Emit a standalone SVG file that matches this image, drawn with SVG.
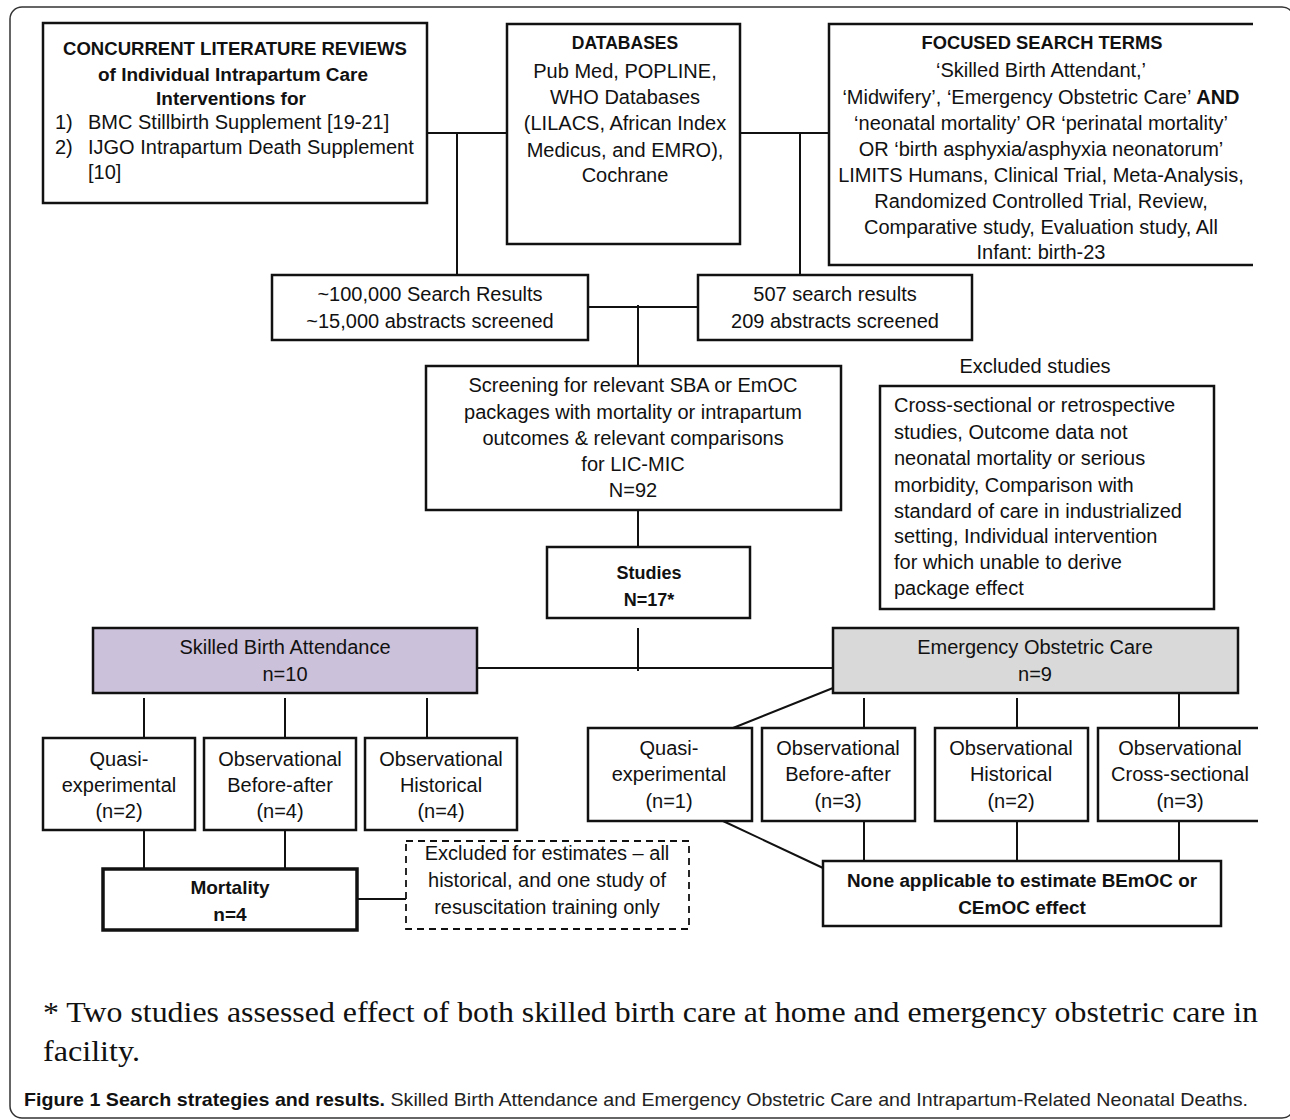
<svg xmlns="http://www.w3.org/2000/svg" width="1290" height="1120" viewBox="0 0 1290 1120">
<style>
.box{fill:#fff;stroke:#111;stroke-width:2.5}
.open{fill:none;stroke:#111;stroke-width:2.5}
.con{fill:none;stroke:#111;stroke-width:2}
.t{font-family:"Liberation Sans",Arial,sans-serif;font-size:20px;fill:#111;text-anchor:middle}
.l{text-anchor:start}
.b{font-weight:bold;font-size:18px}
.fn{font-family:"Liberation Serif","Times New Roman",serif;font-size:30px;fill:#111}
.cap{font-family:"Liberation Sans",Arial,sans-serif;font-size:18.5px;fill:#222}
</style>
<rect x="10" y="7" width="1284" height="1111" rx="12" fill="#fff" stroke="#333" stroke-width="1.5"/>

<g id="connectors">
<path class="con" d="M427,133H507M457,133V275M740,133H829M800,133V275"/>
<path class="con" d="M588,307H698M638,305V366"/>
<path class="con" d="M638,507V547"/>
<path class="con" d="M638,628V671M477,668H833"/>
<path class="con" d="M144,698V738M285,698V738M427,698V738"/>
<path class="con" d="M144,830V869M285,830V869"/>
<path class="con" d="M357,899H406"/>
<path class="con" d="M833,688L733,728M864,698V728M1017,698V728M1179,690V728"/>
<path class="con" d="M723,821L823,868M864,821V861M1017,821V861M1179,821V861"/>
</g>

<g id="n-reviews">
<rect class="box" x="43" y="23" width="384" height="180"/>
<text class="t b" x="235" y="55" textLength="344" lengthAdjust="spacingAndGlyphs">CONCURRENT LITERATURE  REVIEWS</text>
<text class="t b" x="233" y="81" textLength="270" lengthAdjust="spacingAndGlyphs">of Individual  Intrapartum  Care</text>
<text class="t b" x="231" y="105" style="font-size:19px">Interventions  for</text>
<text class="t l" x="55" y="129">1)</text><text class="t l" x="88" y="129">BMC Stillbirth  Supplement [19-21]</text>
<text class="t l" x="55" y="154">2)</text><text class="t l" x="88" y="154">IJGO Intrapartum Death Supplement</text>
<text class="t l" x="88" y="179">[10]</text>
</g>

<g id="n-databases">
<rect class="box" x="507" y="24" width="233" height="220"/>
<text class="t b" x="625" y="49" style="font-size:17.5px">DATABASES</text>
<text class="t" x="625" y="78">Pub Med,  POPLINE,</text>
<text class="t" x="625" y="104">WHO Databases</text>
<text class="t" x="625" y="130">(LILACS, African Index</text>
<text class="t" x="625" y="157">Medicus, and EMRO),</text>
<text class="t" x="625" y="182">Cochrane</text>
</g>

<g id="n-terms">
<path class="open" d="M1253,24H829V265H1253"/>
<text class="t b" x="1042" y="49" textLength="241" lengthAdjust="spacingAndGlyphs">FOCUSED  SEARCH  TERMS</text>
<text class="t" x="1041" y="77">‘Skilled Birth Attendant,’</text>
<text class="t" x="1041" y="104">‘Midwifery’, ‘Emergency Obstetric Care’ <tspan font-weight="bold">AND</tspan></text>
<text class="t" x="1041" y="130">‘neonatal mortality’ OR ‘perinatal mortality’</text>
<text class="t" x="1041" y="156">OR ‘birth asphyxia/asphyxia neonatorum’</text>
<text class="t" x="1041" y="182">LIMITS Humans, Clinical Trial, Meta-Analysis,</text>
<text class="t" x="1041" y="208">Randomized Controlled Trial, Review,</text>
<text class="t" x="1041" y="234">Comparative study, Evaluation study,  All</text>
<text class="t" x="1041" y="259">Infant: birth-23</text>
</g>

<g id="n-results1">
<rect class="box" x="272" y="275" width="316" height="65"/>
<text class="t" x="430" y="301">~100,000 Search Results</text>
<text class="t" x="430" y="328">~15,000 abstracts screened</text>
</g>

<g id="n-results2">
<rect class="box" x="698" y="275" width="274" height="65"/>
<text class="t" x="835" y="301">507 search results</text>
<text class="t" x="835" y="328">209 abstracts screened</text>
</g>

<g id="n-screening">
<rect class="box" x="426" y="366" width="415" height="144"/>
<text class="t" x="633" y="392">Screening for relevant SBA or EmOC</text>
<text class="t" x="633" y="419">packages with mortality or intrapartum</text>
<text class="t" x="633" y="445">outcomes  &amp; relevant comparisons</text>
<text class="t" x="633" y="471">for LIC-MIC</text>
<text class="t" x="633" y="497">N=92</text>
</g>

<g id="n-excluded">
<text class="t" x="1035" y="373">Excluded studies</text>
<rect class="box" x="880" y="386" width="334" height="223"/>
<text class="t l" x="894" y="412">Cross-sectional or retrospective</text>
<text class="t l" x="894" y="439">studies, Outcome data not</text>
<text class="t l" x="894" y="465">neonatal mortality or serious</text>
<text class="t l" x="894" y="492">morbidity, Comparison with</text>
<text class="t l" x="894" y="518">standard of care in industrialized</text>
<text class="t l" x="894" y="543">setting, Individual intervention</text>
<text class="t l" x="894" y="569">for which unable to derive</text>
<text class="t l" x="894" y="595">package effect</text>
</g>

<g id="n-studies">
<rect class="box" x="547" y="547" width="203" height="71"/>
<text class="t b" x="649" y="579">Studies</text>
<text class="t b" x="649" y="606">N=17*</text>
</g>

<g id="n-sba">
<rect class="box" x="93" y="628" width="384" height="65" style="fill:#ccc1da"/>
<text class="t" x="285" y="654">Skilled Birth Attendance</text>
<text class="t" x="285" y="681">n=10</text>
</g>

<g id="n-emoc">
<rect class="box" x="833" y="628" width="405" height="65" style="fill:#d9d9d9"/>
<text class="t" x="1035" y="654">Emergency Obstetric Care</text>
<text class="t" x="1035" y="681">n=9</text>
</g>

<g id="n-sba-quasi">
<rect class="box" x="43" y="738" width="152" height="92"/>
<text class="t" x="119" y="766">Quasi-</text>
<text class="t" x="119" y="792">experimental</text>
<text class="t" x="119" y="818">(n=2)</text>
</g>
<g id="n-sba-beforeafter">
<rect class="box" x="204" y="738" width="152" height="92"/>
<text class="t" x="280" y="766">Observational</text>
<text class="t" x="280" y="792">Before-after</text>
<text class="t" x="280" y="818">(n=4)</text>
</g>
<g id="n-sba-historical">
<rect class="box" x="365" y="738" width="152" height="92"/>
<text class="t" x="441" y="766">Observational</text>
<text class="t" x="441" y="792">Historical</text>
<text class="t" x="441" y="818">(n=4)</text>
</g>

<g id="n-mortality">
<rect class="box" x="103" y="869" width="254" height="61" style="stroke-width:3.5"/>
<text class="t b" x="230" y="894" style="font-size:19px">Mortality</text>
<text class="t b" x="230" y="921" style="font-size:19px">n=4</text>
</g>

<g id="n-excl-estimates">
<rect x="406" y="841" width="283" height="88" fill="#fff" stroke="#111" stroke-width="1.8" stroke-dasharray="7,5"/>
<text class="t" x="547" y="860">Excluded for estimates – all</text>
<text class="t" x="547" y="887">historical, and one study of</text>
<text class="t" x="547" y="914">resuscitation training only</text>
</g>

<g id="n-emoc-quasi">
<rect class="box" x="588" y="728" width="164" height="93"/>
<text class="t" x="669" y="755">Quasi-</text>
<text class="t" x="669" y="781">experimental</text>
<text class="t" x="669" y="808">(n=1)</text>
</g>
<g id="n-emoc-beforeafter">
<rect class="box" x="762" y="728" width="153" height="93"/>
<text class="t" x="838" y="755">Observational</text>
<text class="t" x="838" y="781">Before-after</text>
<text class="t" x="838" y="808">(n=3)</text>
</g>
<g id="n-emoc-historical">
<rect class="box" x="935" y="728" width="153" height="93"/>
<text class="t" x="1011" y="755">Observational</text>
<text class="t" x="1011" y="781">Historical</text>
<text class="t" x="1011" y="808">(n=2)</text>
</g>
<g id="n-emoc-crosssectional">
<path class="open" d="M1258,728H1098V821H1258"/>
<text class="t" x="1180" y="755">Observational</text>
<text class="t" x="1180" y="781">Cross-sectional</text>
<text class="t" x="1180" y="808">(n=3)</text>
</g>

<g id="n-none">
<rect class="box" x="823" y="861" width="398" height="65"/>
<text class="t b" x="1022" y="887" textLength="350" lengthAdjust="spacingAndGlyphs">None applicable  to estimate BEmOC or</text>
<text class="t b" x="1022" y="914" style="font-size:19px">CEmOC effect</text>
</g>

<g id="footnote">
<text class="fn" x="43" y="1022" textLength="1215" lengthAdjust="spacingAndGlyphs">* Two studies assessed effect of both skilled birth care at home and emergency obstetric care in</text>
<text class="fn" x="43" y="1061" textLength="97" lengthAdjust="spacingAndGlyphs">facility.</text>
<text class="cap" x="24" y="1106" textLength="1224" lengthAdjust="spacingAndGlyphs"><tspan font-weight="bold" fill="#111">Figure 1 Search strategies and results.</tspan> Skilled Birth Attendance and Emergency Obstetric Care and Intrapartum-Related Neonatal Deaths.</text>
</g>
</svg>
